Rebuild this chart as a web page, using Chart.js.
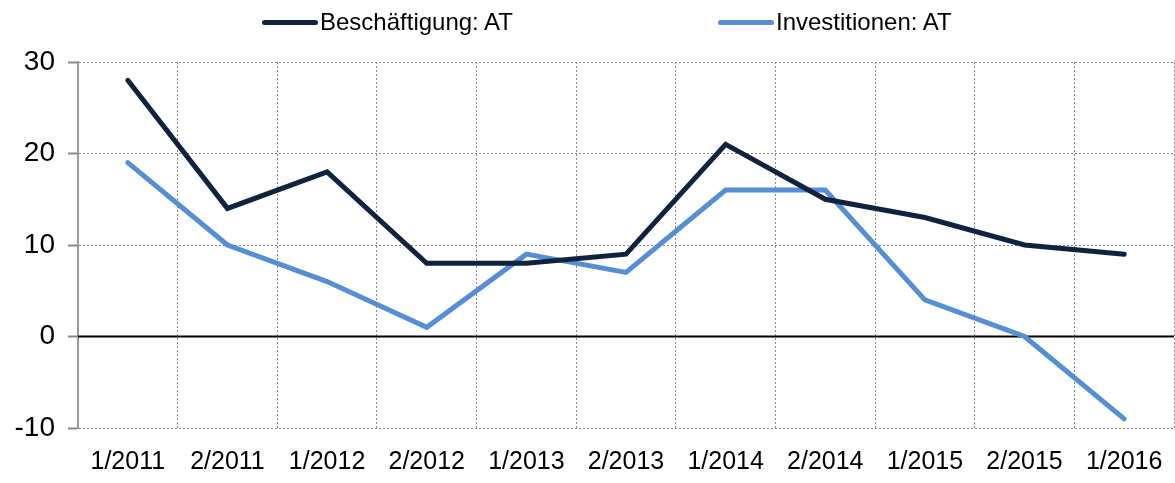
<!DOCTYPE html>
<html>
<head>
<meta charset="utf-8">
<script src="https://cdn.jsdelivr.net/npm/chart.js@4"></script>
<style>
  html, body { margin: 0; padding: 0; background: #fff; }
  #wrap { position: relative; width: 1175px; height: 483px; }
  #legend { position: absolute; top: 0; left: 0; width: 1175px; height: 44px;
            font-family: "Liberation Sans", Arial, sans-serif;
            font-size: 24px; color: #000; }
  .item { position: absolute; top: 8px; display: flex; align-items: center; white-space: nowrap; }
  .swatch { width: 56px; height: 5px; border-radius: 3px; margin-right: 2px; }
</style>
</head>
<body>
<div id="wrap">
  <canvas id="chart" width="1175" height="483"></canvas>
  <div id="legend"></div>
</div>
<script>
// Daten
const categories = ['1/2011', '2/2011', '1/2012', '2/2012', '1/2013', '2/2013',
                    '1/2014', '2/2014', '1/2015', '2/2015', '1/2016'];
const beschaeftigung = [28, 14, 18, 8, 8, 9, 21, 15, 13, 10, 9];
const investitionen = [19, 10, 6, 1, 9, 7, 16, 16, 4, 0, -9];
const seriesNames = ['Beschäftigung: AT', 'Investitionen: AT'];
const seriesColors = ['#0F233F', '#558ED5'];
const legendLeft = [262, 718];

const FONT = '"Liberation Sans", Arial, sans-serif';

// Nulllinie
const zeroLine = {
    id: 'zeroLine',
    beforeDatasetsDraw(chart) {
        const y = chart.scales.y.getPixelForValue(0);
        const { left, right } = chart.chartArea;
        const ctx = chart.ctx;
        ctx.save();
        ctx.strokeStyle = '#000';
        ctx.lineWidth = 2;
        ctx.beginPath();
        ctx.moveTo(left, y);
        ctx.lineTo(right, y);
        ctx.stroke();
        ctx.restore();
    }
};

const chart = new Chart(document.getElementById('chart'), {
    type: 'line',
    data: {
        labels: categories,
        datasets: [
            { label: seriesNames[0], data: beschaeftigung },
            { label: seriesNames[1], data: investitionen }
        ].map((d, i) => Object.assign(d, {
            borderColor: seriesColors[i],
            backgroundColor: seriesColors[i],
            borderWidth: 5,
            pointRadius: 0,
            tension: 0,
            borderCapStyle: 'round',
            borderJoinStyle: 'miter'
        }))
    },
    options: {
        responsive: false,
        animation: false,
        layout: { padding: { top: 62, right: 1, left: 0, bottom: 0 } },
        plugins: {
            legend: { display: false },
            tooltip: { enabled: false }
        },
        scales: {
            x: {
                offset: true,
                grid: { offset: true, color: '#888', lineWidth: 1, drawTicks: false },
                border: { display: false, dash: [2, 2] },
                ticks: { color: '#000', font: { family: FONT, size: 25 }, padding: 19, maxRotation: 0, autoSkip: false },
                afterFit(scale) {
                    scale.height = 55;
                    scale.paddingLeft = 0;
                    scale.paddingRight = 0;
                }
            },
            y: {
                min: -10,
                max: 30,
                ticks: { stepSize: 10, color: '#000', font: { family: FONT, size: 28 }, padding: 13 },
                grid: { color: '#888', lineWidth: 1, tickLength: 10, tickColor: '#888', tickWidth: 2 },
                border: { display: true, color: '#999', width: 2, dash: [2, 2] },
                afterFit(scale) {
                    scale.width = 78;
                    scale.paddingTop = 0;
                    scale.paddingBottom = 0;
                }
            }
        }
    },
    plugins: [zeroLine]
});

// Legende
const legend = document.getElementById('legend');
chart.data.datasets.forEach((ds, i) => {
    const item = document.createElement('div');
    item.className = 'item';
    item.style.left = legendLeft[i] + 'px';
    const sw = document.createElement('span');
    sw.className = 'swatch';
    sw.style.background = ds.borderColor;
    const txt = document.createElement('span');
    txt.textContent = ds.label;
    item.appendChild(sw);
    item.appendChild(txt);
    legend.appendChild(item);
});
</script>
</body>
</html>
